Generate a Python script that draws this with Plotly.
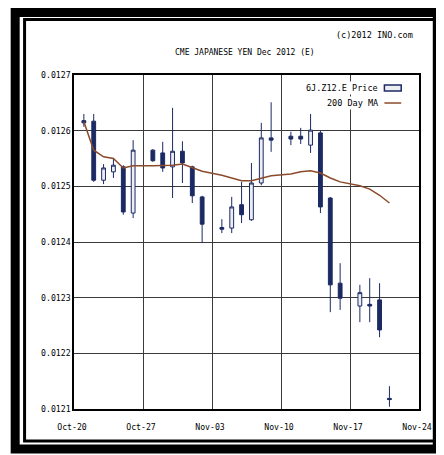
import plotly.graph_objects as go

dates = ["2012-10-21", "2012-10-22", "2012-10-23", "2012-10-24", "2012-10-25", "2012-10-26",
         "2012-10-28", "2012-10-29", "2012-10-30", "2012-10-31", "2012-11-01", "2012-11-02",
         "2012-11-04", "2012-11-05", "2012-11-06", "2012-11-07", "2012-11-08", "2012-11-09",
         "2012-11-11", "2012-11-12", "2012-11-13", "2012-11-14", "2012-11-15", "2012-11-16",
         "2012-11-18", "2012-11-19", "2012-11-20", "2012-11-21"]
open_ = [0.012618, 0.012617, 0.012511, 0.012526, 0.012535, 0.012452,
         0.012565, 0.012560, 0.012535, 0.012563, 0.012535, 0.012481,
         0.012426, 0.012425, 0.012467, 0.012440, 0.012506, 0.012587,
         0.012590, 0.012590, 0.012574, 0.012596, 0.012479, 0.012326,
         0.012285, 0.012288, 0.012296, 0.012119]
high = [0.012630, 0.012630, 0.012540, 0.012551, 0.012538, 0.012583,
        0.012567, 0.012580, 0.012641, 0.012581, 0.012537, 0.012483,
        0.012441, 0.012481, 0.012508, 0.012542, 0.012614, 0.012651,
        0.012598, 0.012605, 0.012630, 0.012600, 0.012481, 0.012362,
        0.012323, 0.012335, 0.012326, 0.012141]
low = [0.012607, 0.012508, 0.012504, 0.012515, 0.012449, 0.012443,
       0.012544, 0.012526, 0.012479, 0.012506, 0.012470, 0.012398,
       0.012416, 0.012416, 0.012434, 0.012438, 0.012502, 0.012562,
       0.012574, 0.012576, 0.012560, 0.012452, 0.012274, 0.012278,
       0.012256, 0.012256, 0.012229, 0.012104]
close = [0.012614, 0.012511, 0.012533, 0.012538, 0.012454, 0.012565,
         0.012546, 0.012533, 0.012563, 0.012542, 0.012483, 0.012432,
         0.012423, 0.012463, 0.012449, 0.012506, 0.012587, 0.012583,
         0.012585, 0.012585, 0.012601, 0.012463, 0.012323, 0.012299,
         0.012309, 0.012285, 0.012242, 0.012117]
ma200 = [0.012616, 0.012565, 0.012553, 0.012550, 0.012533, 0.012537,
         0.012537, 0.012537, 0.012538, 0.012540, 0.012533, 0.012527,
         0.012520, 0.012515, 0.012510, 0.012510, 0.012515, 0.012519,
         0.012522, 0.012526, 0.012528, 0.012524, 0.012515, 0.012508,
         0.012501, 0.012495, 0.012484, 0.012470]

week_ticks = ["2012-10-20", "2012-10-27", "2012-11-03", "2012-11-10", "2012-11-17", "2012-11-24"]
week_labels = ["Oct-20", "Oct-27", "Nov-03", "Nov-10", "Nov-17", "Nov-24"]
y_ticks = [0.0121, 0.0122, 0.0123, 0.0124, 0.0125, 0.0126, 0.0127]

# page body has an 8px margin; work in reference pixel coordinates and shift
OFF = 8
W, H = 444 - OFF, 455 - OFF
L, R, T, B = 74, 423, 75, 409
NAVY = "#1b2a63"
BROWN = "#8b4a2b"
FONT = "DejaVu Sans Mono"
FS = 8.2

def px(x):
    return (x - L) / (R - L)

def py(y):
    return (B - y) / (B - T)

fig = go.Figure()
fig.add_trace(go.Candlestick(
    x=dates, open=open_, high=high, low=low, close=close,
    increasing=dict(line=dict(color=NAVY, width=1), fillcolor="#eceef4"),
    decreasing=dict(line=dict(color=NAVY, width=1), fillcolor=NAVY),
    whiskerwidth=0, name="6J.Z12.E Price", showlegend=False,
))
fig.add_trace(go.Scatter(
    x=dates, y=ma200, mode="lines", line=dict(color=BROWN, width=1.5),
    name="200 Day MA", showlegend=False,
))

shapes = []
# outer double frame
shapes.append(dict(type="rect", xref="paper", yref="paper",
                   x0=px(14.5), x1=px(441.5), y0=py(449), y1=py(12.5),
                   line=dict(color="black", width=9), fillcolor="rgba(0,0,0,0)", layer="above"))
shapes.append(dict(type="rect", xref="paper", yref="paper",
                   x0=px(24), x1=px(439), y0=py(441), y1=py(19.5),
                   line=dict(color="black", width=3), fillcolor="rgba(0,0,0,0)", layer="above"))
# legend symbols
shapes.append(dict(type="rect", xref="paper", yref="paper",
                   x0=px(388), x1=px(405), y0=py(91), y1=py(85),
                   line=dict(color=NAVY, width=1.5), fillcolor="#eceef4", layer="above"))
shapes.append(dict(type="line", xref="paper", yref="paper",
                   x0=px(388), x1=px(405), y0=py(103), y1=py(103),
                   line=dict(color=BROWN, width=1.5), layer="above"))

annotations = [
    dict(text="CME JAPANESE YEN Dec 2012 (E)", xref="paper", yref="paper",
         x=px(247), y=py(52), xanchor="center", yanchor="middle", showarrow=False,
         font=dict(family=FONT, size=8, color="black")),
    dict(text="(c)2012 INO.com", xref="paper", yref="paper",
         x=px(419), y=py(35), xanchor="right", yanchor="middle", showarrow=False,
         font=dict(family=FONT, size=8.5, color="black")),
    dict(text="6J.Z12.E Price", xref="paper", yref="paper",
         x=px(384), y=py(88), xanchor="right", yanchor="middle", showarrow=False,
         font=dict(family=FONT, size=8.5, color="black"), bgcolor="white"),
    dict(text="200 Day MA", xref="paper", yref="paper",
         x=px(384), y=py(103), xanchor="right", yanchor="middle", showarrow=False,
         font=dict(family=FONT, size=8.5, color="black"), bgcolor="white"),
]

fig.update_layout(
    width=W, height=H,
    margin=dict(l=L - OFF, r=444 - R, t=T - OFF, b=455 - B),
    paper_bgcolor="white", plot_bgcolor="white",
    shapes=shapes, annotations=annotations, showlegend=False,
    font=dict(family=FONT, size=FS, color="black"),
    boxgap=0.45,
)
fig.update_xaxes(
    type="date", range=["2012-10-20", "2012-11-24"],
    tickvals=week_ticks, ticktext=week_labels,
    showgrid=True, gridcolor="#3a3a3a", gridwidth=1,
    showline=True, linecolor="black", linewidth=1.5, mirror=True,
    ticks="", rangeslider=dict(visible=False),
    ticklabelshift=-2, ticklabelstandoff=9,
    tickfont=dict(family=FONT, size=FS, color="black"),
)
fig.update_yaxes(
    range=[0.0121, 0.0127], tickvals=y_ticks, tickformat=".4f",
    showgrid=True, gridcolor="#3a3a3a", gridwidth=1,
    showline=True, linecolor="black", linewidth=1.5, mirror=True,
    ticks="", zeroline=False,
    tickfont=dict(family=FONT, size=FS, color="black"),
)

fig.write_html("out.html")
